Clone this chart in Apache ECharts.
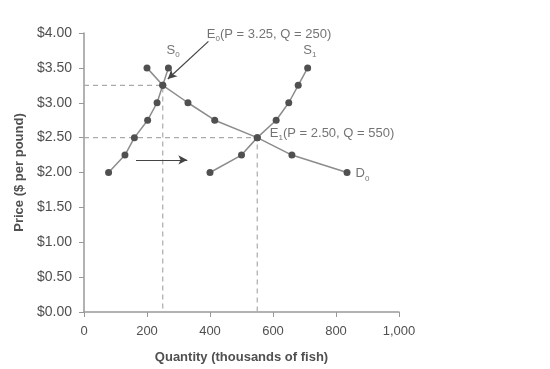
<!DOCTYPE html>
<html><head><meta charset="utf-8">
<script src="https://cdn.jsdelivr.net/npm/echarts@6/dist/echarts.min.js"></script>
<style>html,body{margin:0;padding:0;background:#fff}#c{width:550px;height:369px}</style>
</head><body><div id="c"></div>
<script>
// Data
var prices = [2.00, 2.25, 2.50, 2.75, 3.00, 3.25, 3.50];
var supply0 = [78, 130, 160, 202, 232, 250, 268];
var supply1 = [400, 500, 550, 610, 650, 680, 710];
var demand0 = [835, 660, 550, 415, 330, 250, 200];
var xTicks = [0, 200, 400, 600, 800, 1000];
var yTicks = [0, 0.5, 1, 1.5, 2, 2.5, 3, 3.5, 4];
var eq0 = {p: 3.25, q: 250};
var eq1 = {p: 2.50, q: 550};

var FONT = 'Liberation Sans, Arial, Helvetica, sans-serif';
var TXT = '#505050';
function pairs(qs){ return qs.map(function(q,i){return [q, prices[i]];}); }

var chart = echarts.init(document.getElementById('c'), null, {renderer:'canvas'});
var rich = {
  a:{fontSize:13, color:TXT, fontFamily:FONT},
  s:{fontSize:8, color:TXT, fontFamily:FONT, verticalAlign:'bottom', padding:[9,0,0,0]}
};
function lbl(q,p,text,pos){
  return {value:[q,p], label:{show:true, position:pos||'right', distance:0, formatter:text, rich:rich}};
}
var lineStyle = {color:'#8c8c8c', width:1.5};
var itemStyle = {color:'#505050'};
var dash = {color:'#aaaaaa', width:1.2, type:[5,4]};

chart.setOption({
  animation:false,
  grid:{left:84, right:151, top:33, bottom:54},
  xAxis:{type:'value', min:0, max:1000, interval:200,
    name:'Quantity (thousands of fish)', nameLocation:'middle', nameGap:39,
    nameTextStyle:{fontFamily:FONT, fontSize:13, fontWeight:'bold', color:TXT},
    axisLine:{lineStyle:{color:'#999', width:1.5}}, axisTick:{lineStyle:{color:'#999'}, length:5},
    splitLine:{show:false},
    axisLabel:{fontFamily:FONT, fontSize:13, color:TXT, margin:13,
      formatter:function(v){return v.toLocaleString('en-US');}}},
  yAxis:{type:'value', min:0, max:4, interval:0.5,
    name:'Price ($ per pound)', nameLocation:'middle', nameGap:55, nameRotate:90,
    nameTextStyle:{fontFamily:FONT, fontSize:13, fontWeight:'bold', color:TXT},
    axisLine:{show:true, lineStyle:{color:'#999', width:1.5}}, axisTick:{show:true, lineStyle:{color:'#999'}, length:5},
    splitLine:{show:false},
    axisLabel:{fontFamily:FONT, fontSize:14, color:TXT, margin:12,
      formatter:function(v){return '$'+v.toFixed(2);}}},
  series:[
    {type:'line', data:[[0,eq0.p],[eq0.q,eq0.p],[eq0.q,0]], symbol:'none', lineStyle:dash, z:1},
    {type:'line', data:[[0,eq1.p],[eq1.q,eq1.p],[eq1.q,0]], symbol:'none', lineStyle:dash, z:1},
    {type:'line', data:pairs(supply0), symbol:'circle', symbolSize:7, lineStyle:lineStyle, itemStyle:itemStyle, z:3},
    {type:'line', data:pairs(supply1), symbol:'circle', symbolSize:7, lineStyle:lineStyle, itemStyle:itemStyle, z:3},
    {type:'line', data:pairs(demand0), symbol:'circle', symbolSize:7, lineStyle:lineStyle, itemStyle:itemStyle, z:3},
    {type:'scatter', symbolSize:0, z:5, silent:true,
      data:[
        lbl(390, 3.98, '{a|E}{s|0}{a|(P = 3.25, Q = 250)}'),
        lbl(590, 2.56, '{a|E}{s|1}{a|(P = 2.50, Q = 550)}'),
        lbl(262, 3.75, '{a|S}{s|0}'),
        lbl(696, 3.75, '{a|S}{s|1}'),
        lbl(862, 1.98, '{a|D}{s|0}')
      ],
      markLine:{silent:true, symbol:['none','arrow'], symbolSize:[7,9], label:{show:false},
        lineStyle:{color:'#444', width:1.2, type:'solid'},
        data:[
          [{coord:[395,3.88]},{coord:[266,3.34]}],
          [{coord:[165,2.18]},{coord:[328,2.18]}]
        ]}
    }
  ]
});
</script></body></html>
